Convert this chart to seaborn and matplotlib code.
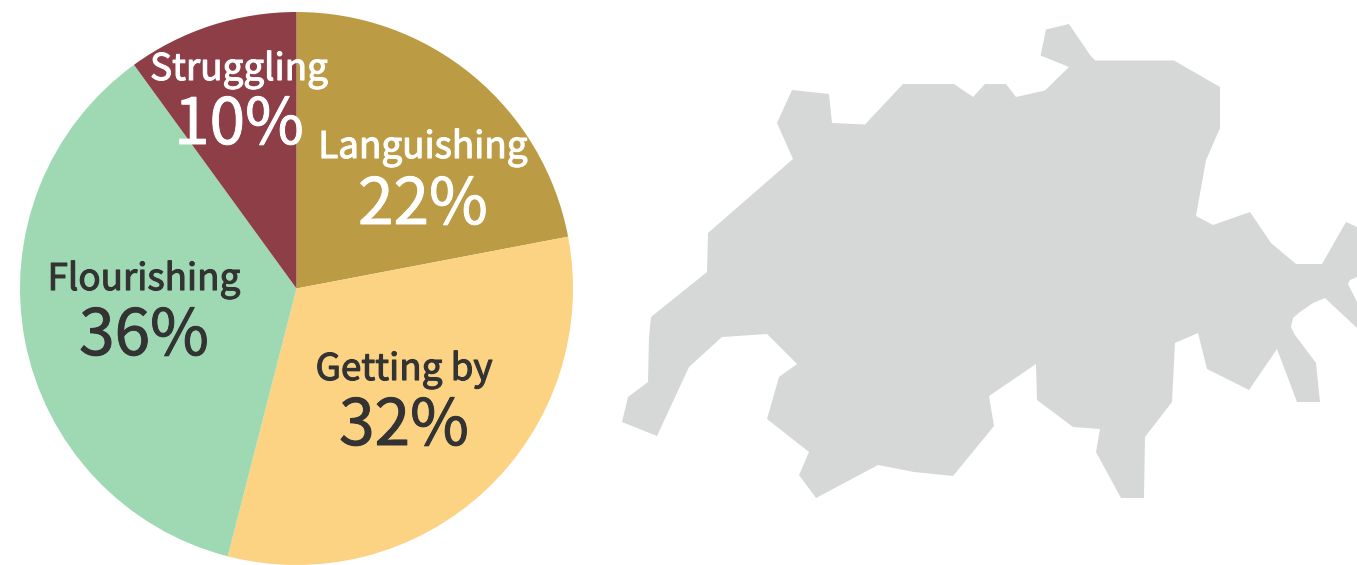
import matplotlib
matplotlib.use('Agg')
import matplotlib.pyplot as plt
import matplotlib.patheffects as pe
import seaborn as sns

categories = ['Languishing', 'Getting by', 'Flourishing', 'Struggling']
shares = [22, 32, 36, 10]
colors = ['#BC9B45', '#FCD283', '#9FD9B3', '#8E3E47']
text_colors = ['white', '#333333', '#333333', 'white']

# where the labels sit, in image pixels
label_x = [423, 404, 144, 239]
name_y = [158, 380, 290, 80]
value_y = [224, 445, 355, 144]

# outline of the country in image pixels
map_x = [792, 829, 832, 865, 903, 954, 973, 985, 1006, 1016, 1045, 1069, 1040.5, 1046, 1069,
         1090, 1095, 1174, 1220, 1220, 1207, 1206, 1196, 1213, 1250, 1271, 1296, 1322, 1346,
         1357, 1357, 1350, 1348, 1357, 1357, 1325, 1313, 1300, 1293, 1291, 1295, 1316, 1320, 1297,
         1277, 1249, 1207, 1198, 1175, 1172, 1145, 1144, 1121, 1096, 1100, 1073, 1037, 1036,
         989, 994, 953, 914, 878, 816, 799, 809, 767, 779, 797, 767, 722, 689, 657, 622, 628,
         648, 649, 651, 707, 708, 793, 777]
map_y = [90, 94, 123, 124.5, 84, 84, 97, 84, 84, 97, 90.5, 67, 55.5, 29.5, 24,
         55, 60.5, 60.5, 87, 128, 158, 160, 216, 225, 212, 243, 264, 264, 222,
         227, 277, 280, 284, 302, 328, 298, 303, 312, 318, 327, 335, 363, 402, 402,
         349, 390, 369, 333, 343, 402, 437, 498, 498, 452, 429, 427, 400, 364,
         396, 426, 476, 472, 465, 498, 475, 452, 419, 377, 364, 334, 337, 367, 436, 422, 397,
         382, 337, 317, 272, 233, 159, 123]

W, H = 1357, 565
sns.set_theme(style='white')
plt.rcParams['font.family'] = ['Noto Sans CJK SC', 'DejaVu Sans']

fig = plt.figure(figsize=(W / 100, H / 100), dpi=100)

# pie
cx, cy, r = 296.5, 288.5, 276.5
ax_pie = fig.add_axes([(cx - r) / W, 1 - (cy + r) / H, 2 * r / W, 2 * r / H])
ax_pie.pie(shares, colors=sns.color_palette(colors), startangle=90, counterclock=False, radius=1,
           wedgeprops={'linewidth': 0, 'edgecolor': 'none'})
ax_pie.set_xlim(-1, 1)
ax_pie.set_ylim(-1, 1)
ax_pie.axis('off')

# map and labels on a full figure axes in pixels
ax = fig.add_axes([0, 0, 1, 1], zorder=2)
ax.set_xlim(0, W)
ax.set_ylim(H, 0)
ax.axis('off')
ax.patch.set_alpha(0)
ax.fill(map_x, map_y, color='#D6D8D7', lw=0)

# only regular and bold are found, so thicken the regular face a bit
for name, val, x, y1, y2, c in zip(categories, shares, label_x, name_y, value_y, text_colors):
    t1 = ax.text(x, y1, name, color=c, fontsize=26.5, ha='center', va='baseline')
    t1.set_path_effects([pe.withStroke(linewidth=0.8, foreground=c)])
    t2 = ax.text(x, y2, f'{val}%', color=c, fontsize=46, ha='center', va='baseline')
    t2.set_path_effects([pe.withStroke(linewidth=0.7, foreground=c)])

fig.savefig('out.png', dpi=100)
